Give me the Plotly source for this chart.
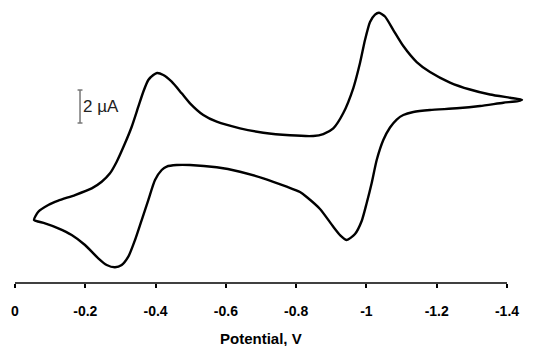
import plotly.graph_objects as go

# Potential (V) and current (uA), scan loop
potential = [-0.0541, -0.0663, -0.0948, -0.1232, -0.1707, -0.2183, -0.2467, -0.2703, -0.2894, -0.3130,
             -0.3321, -0.3509, -0.3651, -0.3793, -0.3935, -0.4041, -0.4220, -0.4459, -0.4743, -0.4980,
             -0.5358, -0.5739, -0.6402, -0.7065, -0.7825, -0.8488, -0.8773, -0.9057, -0.9342, -0.9627,
             -0.9817, -0.9959, -1.0102, -1.0244, -1.0358, -1.0528, -1.0765, -1.1049, -1.1430, -1.1809,
             -1.2378, -1.2947, -1.3516, -1.4085, -1.4427,
             -1.4313, -1.3895, -1.3232, -1.2569, -1.1809, -1.1334, -1.1049, -1.0861, -1.0671, -1.0480,
             -1.0292, -1.0150, -1.0008, -0.9865, -0.9675, -0.9439, -0.9248, -0.9057, -0.8679, -0.8300,
             -0.8110, -0.7731, -0.7065, -0.6402, -0.5739, -0.4980, -0.4601, -0.4317, -0.4174, -0.3984,
             -0.3793, -0.3605, -0.3415, -0.3224, -0.3036, -0.2846, -0.2609, -0.2370, -0.1992, -0.1613,
             -0.1232, -0.0854, -0.0654, -0.0541]
current = [-1.212, -0.709, -0.303, -0.042, 0.303, 0.709, 1.109, 1.618, 2.321, 3.436,
           4.442, 5.655, 6.564, 7.273, 7.576, 7.697, 7.576, 7.170, 6.467, 5.861,
           5.152, 4.745, 4.345, 4.079, 3.921, 3.879, 4.000, 4.345, 5.273, 6.788,
           8.303, 9.697, 10.788, 11.242, 11.352, 11.121, 10.303, 9.333, 8.364, 7.758,
           7.121, 6.697, 6.394, 6.200, 6.079,
           6.000, 5.897, 5.697, 5.558, 5.455, 5.333, 5.152, 4.879, 4.394, 3.636,
           2.424, 1.030, -0.182, -1.273, -2.061, -2.424, -2.121, -1.618, -0.545, 0.182,
           0.485, 0.806, 1.315, 1.715, 1.982, 2.121, 2.121, 2.030, 1.818, 1.212,
           0.000, -1.212, -2.424, -3.436, -3.939, -4.079, -3.939, -3.533, -2.727, -2.121,
           -1.715, -1.412, -1.303, -1.212]

tick_vals = [0, -0.2, -0.4, -0.6, -0.8, -1.0, -1.2, -1.4]
tick_text = ["0", "-0.2", "-0.4", "-0.6", "-0.8", "-1", "-1.2", "-1.4"]

scale_x = -0.185
scale_bottom = 4.667
scale_size = 2.0
scale_label = "2 µA"

FONT = "Liberation Sans, Arial, sans-serif"

fig = go.Figure()
fig.add_trace(go.Scatter(
    x=potential, y=current, mode="lines",
    line=dict(color="#000000", width=2.4, shape="spline", smoothing=0.6),
    hoverinfo="skip", showlegend=False,
))

# x axis line from 0 to -1.4
fig.add_shape(type="line", xref="x", yref="paper", x0=tick_vals[0], x1=tick_vals[-1], y0=0, y1=0,
              line=dict(color="#000000", width=1.5))

# scale bar
cap = 0.007
fig.add_shape(type="line", x0=scale_x, x1=scale_x, y0=scale_bottom, y1=scale_bottom + scale_size,
              line=dict(color="#777777", width=1.5))
for yy in (scale_bottom, scale_bottom + scale_size):
    fig.add_shape(type="line", x0=scale_x - cap, x1=scale_x + cap, y0=yy, y1=yy,
                  line=dict(color="#777777", width=1.5))
fig.add_annotation(x=scale_x - 0.004, y=scale_bottom + scale_size / 2, text=scale_label,
                   showarrow=False, xanchor="left", yanchor="middle",
                   font=dict(family=FONT, size=17, color="#222222"))

# axis title centred on axis line
fig.add_annotation(x=(tick_vals[0] + tick_vals[-1]) / 2, y=0, xref="x", yref="paper",
                   yshift=-55, text="<b>Potential, V</b>", showarrow=False,
                   xanchor="center", yanchor="middle",
                   font=dict(family=FONT, size=15, color="#000000"))

fig.update_layout(
    width=538, height=346,
    margin=dict(l=15, r=13, t=5, b=63),
    paper_bgcolor="white", plot_bgcolor="white",
    xaxis=dict(range=[0, -1.4512], tickvals=tick_vals, ticktext=tick_text,
               showgrid=False, zeroline=False, showline=False,
               ticks="outside", ticklen=4, tickwidth=1.5, tickcolor="#000000",
               ticklabelstandoff=11,
               tickfont=dict(family=FONT, size=14, color="#000000", weight="bold")),
    yaxis=dict(range=[-5.03, 11.82], visible=False),
)

fig.write_html("out.html", config={"displayModeBar": False},
               post_script="document.body.style.margin='0px';document.body.style.overflow='hidden';")
